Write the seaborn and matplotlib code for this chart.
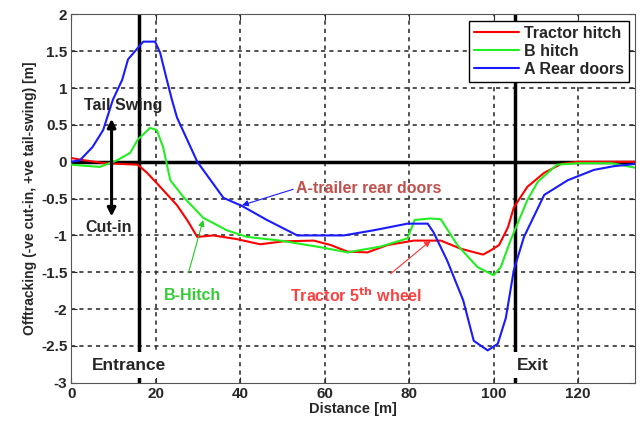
import pandas as pd
import numpy as np
import matplotlib
matplotlib.use('Agg')
import matplotlib.pyplot as plt
import seaborn as sns

# --- data ---
tractor_x = [0, 3, 8, 15.7, 17.9, 20.2, 23.4, 25, 27.5, 29.8, 33.6, 39.2, 44.7, 50.2, 57.4,
             61.4, 65.4, 70.1, 74.9, 81.1, 87.5, 92.2, 97.5, 99.4, 101.3, 103.4, 104.8,
             108, 112, 116, 120, 128, 133.5]
tractor_y = [0.05, 0.02, -0.02, -0.04, -0.15, -0.29, -0.49, -0.59, -0.8, -1.02, -1.0, -1.05,
             -1.12, -1.08, -1.07, -1.13, -1.22, -1.23, -1.13, -1.07, -1.07, -1.18, -1.26,
             -1.2, -1.13, -0.89, -0.62, -0.34, -0.15, -0.03, 0.0, 0.0, 0.0]

bhitch_x = [0, 6.7, 10.8, 13.9, 15.7, 18.6, 20.2, 21.7, 23.4, 26.4, 31.2, 36.8, 41.6, 49.5,
            59, 65.4, 73.3, 79.6, 81.3, 85, 87.5, 91.4, 96.2, 100, 101.7, 104, 108, 110.5,
            115, 120, 128, 133.5]
bhitch_y = [-0.04, -0.07, 0.02, 0.12, 0.3, 0.46, 0.43, 0.2, -0.25, -0.47, -0.76, -0.93,
            -1.02, -1.07, -1.16, -1.23, -1.15, -1.04, -0.79, -0.77, -0.78, -1.13, -1.43,
            -1.54, -1.43, -1.07, -0.52, -0.27, -0.04, -0.02, -0.02, -0.08]

rear_x = [0, 2, 5, 7.5, 9.8, 12, 13.4, 15.8, 17, 19.8, 21, 22.6, 23.8, 25, 29.8, 36, 40.4,
          46.3, 53.5, 59.8, 64.5, 71.6, 79.6, 84.4, 85.8, 89, 92.8, 95.3, 98.6, 101, 102.9,
          104.8, 107.2, 112, 117.6, 123.8, 128.5, 133.5]
rear_y = [0.0, 0.02, 0.2, 0.43, 0.84, 1.11, 1.39, 1.55, 1.63, 1.63, 1.48, 1.11, 0.84, 0.6,
          0.0, -0.49, -0.6, -0.79, -1.0, -1.0, -1.0, -0.93, -0.84, -0.84, -0.96, -1.34,
          -1.88, -2.43, -2.56, -2.47, -2.12, -1.47, -1.02, -0.45, -0.25, -0.11, -0.06, -0.03]

series_names = ['Tractor hitch', 'B hitch', 'A Rear doors']
series_colors = ['#ff0000', '#22ee22', '#1a1aff']
x_ticks = [0, 20, 40, 60, 80, 100, 120]
y_ticks = [-3, -2.5, -2, -1.5, -1, -0.5, 0, 0.5, 1, 1.5, 2]
y_ticklabels = ['-3', '-2.5', '-2', '-1.5', '-1', '-0.5', '0', '0.5', '1', '1.5', '2']
entrance_x, exit_x = 16, 105

df = pd.concat([
    pd.DataFrame({'Distance': tractor_x, 'Offtracking': tractor_y, 'Series': series_names[0]}),
    pd.DataFrame({'Distance': bhitch_x, 'Offtracking': bhitch_y, 'Series': series_names[1]}),
    pd.DataFrame({'Distance': rear_x, 'Offtracking': rear_y, 'Series': series_names[2]}),
], ignore_index=True)

sns.set_style('ticks')
plt.rcParams['font.family'] = ['Liberation Sans', 'DejaVu Sans']
plt.rcParams['font.weight'] = 'bold'

fig = plt.figure(figsize=(6.44, 4.23), dpi=100)
ax = fig.add_axes([0.111, 0.095, 0.875, 0.871])

sns.lineplot(data=df, x='Distance', y='Offtracking', hue='Series', hue_order=series_names,
             palette=series_colors, estimator=None, sort=False, linewidth=1.5, ax=ax, zorder=3)

ax.set_xlim(0, 133.5)
ax.set_ylim(-3, 2)
ax.set_xticks(x_ticks)
ax.set_yticks(y_ticks)
ax.set_yticklabels(y_ticklabels)
ax.tick_params(direction='in', top=True, right=True, length=4, labelsize=11, pad=3)
for lab in ax.get_xticklabels() + ax.get_yticklabels():
    lab.set_fontweight('bold')
for sp in ax.spines.values():
    sp.set_color('#555555')
    sp.set_linewidth(0.8)

# dotted MATLAB-style grid at the tick positions
for xv in x_ticks[1:]:
    ax.axvline(xv, color='#333333', linestyle=(0, (2.5, 2.5)), linewidth=1.2, zorder=1)
for yv in y_ticks[1:-1]:
    ax.axhline(yv, color='#333333', linestyle=(0, (2.5, 2.5)), linewidth=1.2, zorder=1)

ax.set_xlabel('Distance [m]', fontsize=10.5, fontweight='bold', labelpad=1)
ax.set_ylabel('Offtracking (-ve cut-in, +ve tail-swing) [m]', fontsize=10,
              fontweight='bold', labelpad=3)

# reference lines
ax.axhline(0, color='black', linewidth=2.5, zorder=2)
ax.axvline(entrance_x, color='black', linewidth=2.5, zorder=2)
ax.axvline(exit_x, color='black', linewidth=2.5, zorder=2)

# entrance / exit labels (small pad so the white box stays inside the axes)
ax.text(4.8, -2.76, 'Entrance', fontsize=12.5, fontweight='bold', va='center', ha='left',
        bbox=dict(boxstyle='square,pad=0.3', facecolor='white', edgecolor='none'),
        zorder=5)
ax.text(105.6, -2.76, 'Exit', fontsize=12.5, fontweight='bold', va='center', ha='left',
        bbox=dict(boxstyle='square,pad=0.3', facecolor='white', edgecolor='none'),
        zorder=5)

# tail swing / cut-in
ax.annotate('', xy=(9.5, 0.62), xytext=(9.5, -0.78),
            arrowprops=dict(arrowstyle='<|-|>', color='black', lw=2.2, mutation_scale=12),
            zorder=6)
ax.text(12.2, 0.76, 'Tail Swing', fontsize=11.5, fontweight='bold', ha='center', va='center',
        zorder=6)
ax.text(3.2, -0.89, 'Cut-in', fontsize=11.5, fontweight='bold', ha='left', va='center',
        zorder=1.5)

# callouts
ax.annotate('A-trailer rear doors', xy=(40.4, -0.59), xytext=(53.3, -0.36),
            fontsize=11.5, fontweight='bold', color='#c0504d', ha='left', va='center',
            arrowprops=dict(arrowstyle='-|>', color='#1a1aff', lw=0.8, mutation_scale=9,
                            shrinkA=0, shrinkB=0, relpos=(0, 0.5)), zorder=6)
ax.annotate('', xy=(31.2, -0.79), xytext=(27.7, -1.51),
            arrowprops=dict(arrowstyle='-|>', color='#22cc22', lw=0.8, mutation_scale=9,
                            shrinkA=0, shrinkB=0), zorder=6)
ax.text(28.6, -1.82, 'B-Hitch', fontsize=11.5, fontweight='bold', color='#33cc33',
        ha='center', va='center', zorder=6)
ax.annotate('', xy=(85.1, -1.07), xytext=(75.6, -1.52),
            arrowprops=dict(arrowstyle='-|>', color='#ff3333', lw=0.8, mutation_scale=9,
                            shrinkA=0, shrinkB=0), zorder=6)
ax.text(67.5, -1.82, r'Tractor 5$^{\mathbf{th}}$ wheel', fontsize=11.5, fontweight='bold',
        color='#ff4040', ha='center', va='center', zorder=6)

leg = ax.legend(loc='upper right', fontsize=11.5, frameon=True, fancybox=False,
                edgecolor='black', framealpha=1, handlelength=2.8, labelspacing=0.2,
                borderaxespad=0.4, borderpad=0.3, handletextpad=0.3)
leg.get_frame().set_linewidth(1.0)
leg.set_zorder(7)
for t in leg.get_texts():
    t.set_fontweight('bold')

fig.savefig('out.png', dpi=100, facecolor='white')
